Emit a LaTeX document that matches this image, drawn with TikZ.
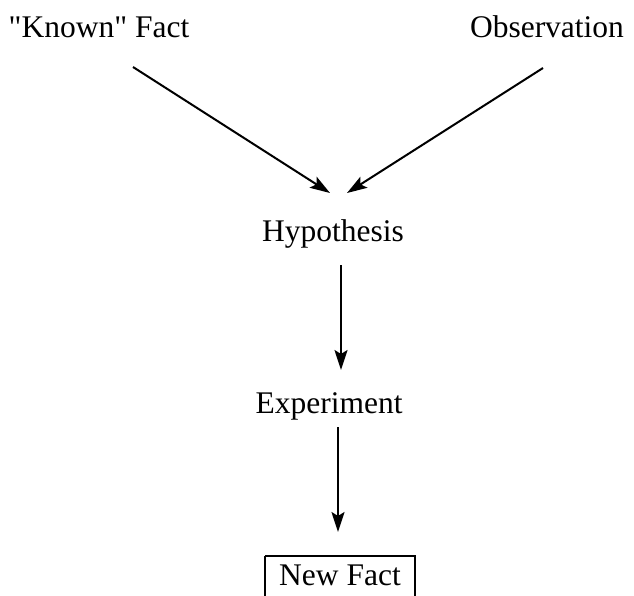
\documentclass[tikz,border=0pt]{standalone}
\usepackage{fontspec}
\setmainfont{Liberation Serif}[Ligatures=TeXOff]
\usetikzlibrary{arrows.meta}
\begin{document}
\begin{tikzpicture}[x=1pt,y=-1pt,
  lbl/.style={inner sep=0pt,anchor=base,font=\fontsize{31.5}{36}\selectfont},
  conn/.style={line width=2pt,-{Stealth[length=20pt,width=13pt,inset=4pt]}}]
\useasboundingbox (0,0) rectangle (634,596);
\clip (0,0) rectangle (634,596);
\node[lbl] (known) at (99,38) {"Known" Fact};
\node[lbl] (obs) at (547,38) {Observation};
\node[lbl] (hyp) at (333,241) {Hypothesis};
\node[lbl] (exp) at (329,413) {Experiment};
\node[lbl] (new) at (340,585) {New Fact};
\draw[line width=1.6pt] (265,556) -- (265,600) (265,556) -- (415,556) -- (415,600);
\coordinate (k1) at (133,67);
\coordinate (k2) at (330,193);
\coordinate (o1) at (543,68);
\coordinate (o2) at (347,193);
\coordinate (h1) at (341,265);
\coordinate (h2) at (341,370);
\coordinate (e1) at (338,427);
\coordinate (e2) at (338,532);
\draw[conn] (k1) -- (k2);
\draw[conn] (o1) -- (o2);
\draw[conn] (h1) -- (h2);
\draw[conn] (e1) -- (e2);
\end{tikzpicture}
\end{document}
